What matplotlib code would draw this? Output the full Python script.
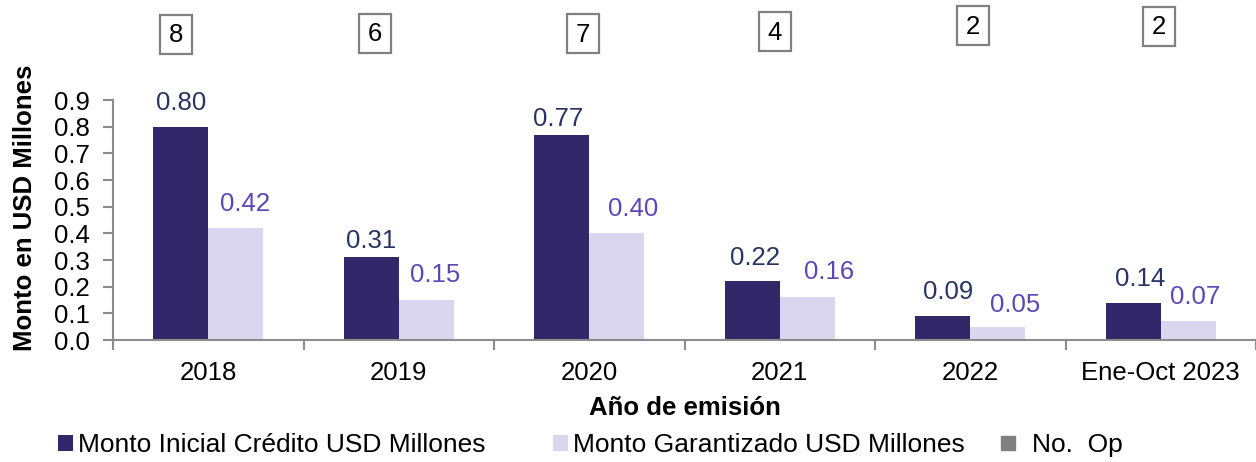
import matplotlib
matplotlib.use("Agg")
import matplotlib.pyplot as plt
import numpy as np
from matplotlib.patches import Patch, Rectangle
from matplotlib.lines import Line2D

plt.rcParams['font.family'] = ['Liberation Sans', 'DejaVu Sans']

categories = ["2018", "2019", "2020", "2021", "2022", "Ene-Oct 2023"]
monto_inicial = [0.80, 0.31, 0.77, 0.22, 0.09, 0.14]
monto_garantizado = [0.42, 0.15, 0.40, 0.16, 0.05, 0.07]
no_op = [8, 6, 7, 4, 2, 2]

# ---- layout (manual label placement, in pixels) ----
dark_lbl_dx = [0, 0, -4, 2.5, 5.5, 7]
dark_lbl_dy = [17, 9, 8.5, 16, 17, 17]
light_lbl_dx = [9, 9, 16, 22, 17.5, 7]
light_lbl_dy = [17, 18, 17, 18, 15, 17]
box_dx = [-32.5, -23.5, -6.5, -5, 2.5, -1.5]
box_y = [34, 33, 33.5, 31.5, 25.5, 26.5]
box_w, box_h = 32, 39

dark = "#322768"
light = "#DAD6EF"
dark_lbl = "#283463"
light_lbl = "#5B47B8"
spine_c = "#8C8C8C"
FS = 18.5

W, H = 1256, 462
fig = plt.figure(figsize=(W / 100, H / 100), dpi=100)
ax = fig.add_axes([113 / W, 1 - 340 / H, (1256 - 113) / W, 240 / H])

x = np.arange(len(categories))
bw = 0.29
ax.bar(x - bw / 2, monto_inicial, bw, color=dark, zorder=2)
ax.bar(x + bw / 2, monto_garantizado, bw, color=light, zorder=2)

for xi, v, dx, dy in zip(x, monto_inicial, dark_lbl_dx, dark_lbl_dy):
    ax.annotate(f"{v:.2f}", (xi - bw / 2, v), xytext=(dx, dy), textcoords="offset pixels",
                ha="center", va="baseline", fontsize=FS, color=dark_lbl)
for xi, v, dx, dy in zip(x, monto_garantizado, light_lbl_dx, light_lbl_dy):
    ax.annotate(f"{v:.2f}", (xi + bw / 2, v), xytext=(dx, dy), textcoords="offset pixels",
                ha="center", va="baseline", fontsize=FS, color=light_lbl)

ax.set_xlim(-0.5, len(categories) - 0.5)
ax.set_ylim(0, 0.9)
yt = np.arange(0, 0.91, 0.1)
ax.set_yticks(yt)
ax.set_yticklabels([f"{t:.1f}" for t in yt])
ax.set_xticks(x)
ax.set_xticklabels(categories)
ax.set_xticks(np.arange(-0.5, len(categories) - 0.4, 1), minor=True)
ax.tick_params(axis="x", which="major", length=0, labelsize=FS, pad=15)
ax.tick_params(axis="x", which="minor", length=7, color=spine_c, width=1.5, direction="out")
ax.tick_params(axis="y", length=7, color=spine_c, width=1.5, labelsize=FS, pad=10)

for s in ["top", "right"]:
    ax.spines[s].set_visible(False)
for s in ["left", "bottom"]:
    ax.spines[s].set_color(spine_c)
    ax.spines[s].set_linewidth(1.5)

ax.set_ylabel("Monto en USD Millones", fontsize=FS, fontweight="bold")
ax.yaxis.label.set_va("center")
ax.yaxis.set_label_coords((25 - 113) / 1143, (340 - 208) / 240)
ax.set_xlabel("Año de emisión", fontsize=FS, fontweight="bold")
ax.xaxis.label.set_va("center")
ax.xaxis.set_label_coords(0.5, (340 - 408) / 240)

# No. Op boxes
fig.canvas.draw()
for xi, n, dx, yy in zip(x, no_op, box_dx, box_y):
    xc = ax.transData.transform((xi, 0))[0] + dx
    yc = H - yy
    fig.patches.append(Rectangle(((xc - box_w / 2) / W, (yc - box_h / 2) / H), box_w / W, box_h / H,
                                 transform=fig.transFigure, facecolor="white", edgecolor="#808080",
                                 linewidth=1.6, zorder=3))
    fig.text(xc / W, (yc - 1) / H, str(n), ha="center", va="center", fontsize=FS, color="black", zorder=4)

# Legend (three entries, placed like the original)
LFS = 19
ly = 1 - 445 / H
entries = [
    (Patch(facecolor=dark, edgecolor="none"), "Monto Inicial Crédito USD Millones", 58, 0.22),
    (Patch(facecolor=light, edgecolor="none"), "Monto Garantizado USD Millones", 553, 0.22),
    (Line2D([], [], marker="s", color="none", markerfacecolor="#808080", markeredgecolor="#808080",
            markersize=10), "No.  Op", 1001, 0.62),
]
for h, lab, px, tp in entries:
    fig.legend([h], [lab], loc="center left", bbox_to_anchor=(px / W, ly), frameon=False,
               fontsize=LFS, handlelength=0.55, handleheight=0.55, handletextpad=tp,
               borderpad=0, borderaxespad=0)

fig.savefig("out.png", dpi=100)
